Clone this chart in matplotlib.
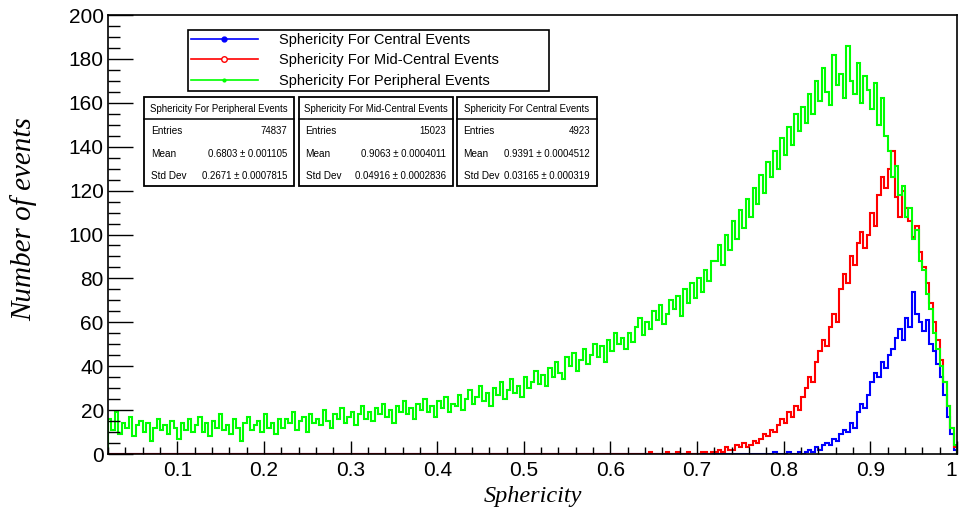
import numpy as np
import matplotlib.pyplot as plt
from matplotlib.lines import Line2D
from matplotlib.patches import Rectangle
from matplotlib.ticker import MultipleLocator

plt.rcParams['font.family'] = ['Liberation Sans', 'DejaVu Sans']

# histogram binning
bin_width = 0.004
x_start = 0.02

# peripheral events, one row = 0.1 in sphericity
green_counts = [
    16, 11, 19, 9, 14, 12, 17, 8, 13, 15, 10, 14, 6, 12, 16, 11, 13, 9, 15, 12, 7, 14, 11, 16, 10,
    13, 17, 10, 14, 8, 15, 12, 18, 11, 13, 9, 16, 12, 6, 14, 17, 11, 13, 15, 10, 18, 12, 14, 9, 16,
    12, 16, 14, 19, 11, 15, 17, 10, 18, 14, 16, 13, 20, 15, 12, 18, 16, 21, 14, 17, 19, 13, 18, 22, 16,
    19, 15, 21, 18, 23, 17, 20, 14, 22, 19, 24, 18, 21, 16, 23, 20, 25, 19, 22, 17, 24, 21, 26, 19, 23,
    22, 27, 20, 25, 29, 23, 26, 31, 24, 28, 22, 30, 27, 33, 25, 29, 34, 28, 31, 26, 35, 30, 33, 38, 32,
    36, 31, 39, 35, 42, 37, 34, 44, 40, 46, 38, 43, 48, 41, 45, 50, 44, 49, 42, 52, 47, 55, 50, 53, 48,
    55, 51, 58, 62, 54, 60, 57, 65, 61, 68, 59, 64, 70, 66, 72, 63, 75, 69, 78, 71, 80, 74, 84, 79, 88,
    88, 95, 86, 100, 93, 106, 98, 111, 103, 116, 108, 121, 114, 127, 119, 133, 126, 138, 130, 144, 136, 149, 141, 155, 147,
    158, 151, 164, 155, 170, 161, 176, 165, 159, 182, 168, 173, 162, 186, 170, 164, 178, 160, 172, 166, 157, 169, 150, 162, 145,
    138, 126, 131, 118, 122, 108, 112, 98, 102, 88, 84, 73, 66, 55, 48, 40, 33, 22, 12, 4,
]

# mid-central events, zero below red_start
red_start = 0.62
red_counts = [
    0, 0, 0, 0, 0, 0, 1, 0, 0, 0, 0, 1, 0, 0, 1, 0, 0, 1, 0, 0, 0, 1, 1, 0, 1,
    1, 2, 1, 3, 2, 2, 4, 3, 5, 3, 4, 6, 5, 7, 9, 8, 11, 10, 13, 16, 14, 19, 17, 22, 20,
    26, 30, 35, 33, 42, 47, 52, 49, 58, 64, 60, 75, 82, 78, 90, 86, 96, 101, 94, 100, 110, 104, 118, 126, 121,
    130, 138, 117, 108, 120, 112, 106, 99, 104, 92, 85, 78, 69, 60, 52, 43, 33, 22, 12, 3,
]

# central events, zero below blue_start
blue_start = 0.72
blue_counts = [
    0, 0, 0, 0, 0, 0, 0, 0, 0, 0, 0, 0, 0, 0, 0, 0, 0, 1, 0, 0, 0, 1, 0, 0, 1,
    0, 1, 2, 1, 3, 2, 4, 5, 4, 7, 6, 9, 11, 10, 14, 12, 19, 23, 21, 27, 33, 37, 35, 42, 39,
    45, 48, 53, 57, 52, 62, 58, 74, 64, 60, 56, 61, 50, 47, 41, 35, 27, 17, 9, 2,
]

legend_labels = [
    "Sphericity For Central Events",
    "Sphericity For Mid-Central Events",
    "Sphericity For Peripheral Events",
]

stat_titles = [
    "Sphericity For Peripheral Events",
    "Sphericity For Mid-Central Events",
    "Sphericity For Central Events",
]
stat_entries = ["74837", "15023", "4923"]
stat_means = ["0.6803 \u00b1 0.001105", "0.9063 \u00b1 0.0004011", "0.9391 \u00b1 0.0004512"]
stat_stds = ["0.2671 \u00b1 0.0007815", "0.04916 \u00b1 0.0002836", "0.03165 \u00b1 0.000319"]

x_tick_labels = ["0.1", "0.2", "0.3", "0.4", "0.5", "0.6", "0.7", "0.8", "0.9", "1"]

n_bins = len(green_counts)
edges = x_start + bin_width * np.arange(n_bins + 1)
green = np.array(green_counts, dtype=float)
red = np.concatenate([np.zeros(round((red_start - x_start) / bin_width)), red_counts])
blue = np.concatenate([np.zeros(round((blue_start - x_start) / bin_width)), blue_counts])

W, H = 959, 515
fig = plt.figure(figsize=(W / 100, H / 100), dpi=100)
ax = fig.add_axes([108 / W, 1 - 454 / H, 849 / W, 439 / H])

ax.stairs(blue, edges, color="#0000ff", lw=1.5)
ax.stairs(red, edges, color="#ff0000", lw=1.5)
ax.stairs(green, edges, color="#00ff00", lw=1.5)

ax.set_xlim(x_start, 1.0)
ax.set_ylim(0, 200)
ax.xaxis.set_minor_locator(MultipleLocator(0.02))
ax.yaxis.set_major_locator(MultipleLocator(20))
ax.yaxis.set_minor_locator(MultipleLocator(5))
ax.set_xticks(np.arange(0.1, 1.01, 0.1))
ax.set_xticklabels(x_tick_labels)
ax.get_xticklabels()[-1].set_horizontalalignment("right")

ax.tick_params(axis="x", which="major", direction="in", length=9.5, width=1, labelsize=15, pad=5)
ax.tick_params(axis="x", which="minor", direction="in", length=5, width=1)
ax.tick_params(axis="y", which="major", direction="in", length=18, width=1, labelsize=15, pad=3)
ax.tick_params(axis="y", which="minor", direction="in", length=8.6, width=1)
for s in ax.spines.values():
    s.set_linewidth(1.2)

ax.set_xlabel("Sphericity", family="Liberation Serif", style="italic", fontsize=17.5)
ax.set_ylabel("Number of events", family="Liberation Serif", style="italic", fontsize=21)
ax.xaxis.set_label_coords(0.5, -0.072)
ax.yaxis.set_label_coords(-0.083, 0.535)

handles = [
    Line2D([], [], color="#0000ff", lw=1.2, marker="o", markersize=3.5),
    Line2D([], [], color="#ff0000", lw=1.2, marker="o", markersize=4, markerfacecolor="white"),
    Line2D([], [], color="#00ff00", lw=1.2, marker="o", markersize=2),
]
leg = ax.legend(handles, legend_labels, loc="upper left",
                bbox_to_anchor=(80 / 849, (454 - 90) / 439, 361 / 849, 60 / 439),
                mode="expand", borderaxespad=0, fontsize=10.5, handlelength=4.6,
                handletextpad=1.45, labelspacing=0.45, borderpad=0.2,
                fancybox=False, edgecolor="black", framealpha=1)
leg.get_frame().set_linewidth(1.2)


def stat_box(x0, x1, title, entries, mean, std):
    y0, y1, sep = 97, 186, 119
    fig.add_artist(Rectangle((x0 / W, 1 - y1 / H), (x1 - x0) / W, (y1 - y0) / H,
                             transform=fig.transFigure, fc="white", ec="black", lw=1.3))
    fig.add_artist(Line2D([x0 / W, x1 / W], [1 - sep / H] * 2,
                          transform=fig.transFigure, color="black", lw=1.1))
    fig.text((x0 + x1) / 2 / W, 1 - 108.5 / H, title, ha="center", va="center", fontsize=6.9)
    for y, lab, val in [(131, "Entries", entries), (154, "Mean", mean), (176, "Std Dev", std)]:
        fig.text((x0 + 7) / W, 1 - y / H, lab, ha="left", va="center", fontsize=7.2)
        fig.text((x1 - 7) / W, 1 - y / H, val, ha="right", va="center", fontsize=6.9)


box_x = [(144, 294), (298.5, 453), (456.5, 597)]
for (x0, x1), t, e, m, s in zip(box_x, stat_titles, stat_entries, stat_means, stat_stds):
    stat_box(x0, x1, t, e, m, s)

fig.savefig("out.png", dpi=100)
